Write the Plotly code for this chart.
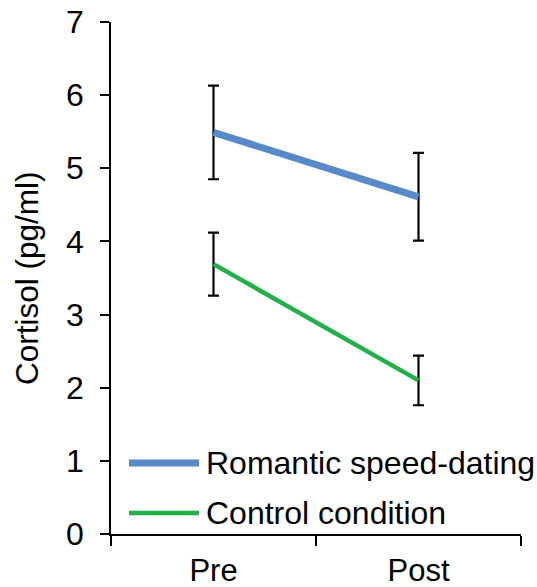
import plotly.graph_objects as go

categories = ["Pre", "Post"]
series_names = ["Romantic speed-dating", "Control condition"]
romantic = [5.49, 4.61]
romantic_err = [0.64, 0.60]
control = [3.69, 2.10]
control_err = [0.43, 0.34]
y_ticks = [0, 1, 2, 3, 4, 5, 6, 7]

blue = "#5889C8"
green = "#22B04B"
FONT = "Liberation Sans, Arial, sans-serif"

fig = go.Figure()
for name, vals, errs, col, w in [
    (series_names[0], romantic, romantic_err, blue, 7),
    (series_names[1], control, control_err, green, 4.5),
]:
    fig.add_trace(go.Scatter(
        x=categories, y=vals, mode="lines", name=name,
        line=dict(color=col, width=w),
        error_y=dict(type="data", array=errs, visible=True,
                     color="black", thickness=2.2, width=5.5),
        showlegend=False,
    ))

# manual legend (long line samples)
W, H = 537, 587
l, r, t, b = 111, 16, 22, 53
pw, ph = W - l - r, H - t - b
def px(xp):
    return (xp - l) / pw
def py(yp):
    return (H - b - yp) / ph

legend_items = [(series_names[0], blue, 7, 463), (series_names[1], green, 4.5, 513)]
for name, col, w, yy in legend_items:
    fig.add_shape(type="line", xref="paper", yref="paper",
                  x0=px(129), x1=px(199), y0=py(yy), y1=py(yy),
                  line=dict(color=col, width=w))
    fig.add_annotation(xref="paper", yref="paper", x=px(204), y=py(yy),
                       text=name, showarrow=False, xanchor="left", yanchor="middle",
                       font=dict(family=FONT, size=32, color="black"))

# y-axis title
fig.add_annotation(xref="paper", yref="paper", x=px(27), y=py(278),
                   text="Cortisol (pg/ml)", showarrow=False, textangle=-90,
                   xanchor="center", yanchor="middle",
                   font=dict(family=FONT, size=31.5, color="black"))

fig.update_layout(
    width=W, height=H,
    margin=dict(l=l, r=r, t=t, b=b, pad=0),
    paper_bgcolor="white", plot_bgcolor="white",
    font=dict(family=FONT, size=32, color="black"),
    showlegend=False,
    xaxis=dict(
        type="category", categoryarray=categories, range=[-0.5, 1.5],
        tickson="boundaries", ticks="outside", ticklen=10, tickwidth=1.5,
        tickcolor="black", showline=True, linecolor="black", linewidth=1.5,
        showgrid=False, zeroline=False, tickfont=dict(size=31),
        ticklabelstandoff=8, automargin=False,
    ),
    yaxis=dict(
        range=[0, 7], tickvals=y_ticks, ticks="outside", ticklen=9,
        tickwidth=1.5, tickcolor="black", showline=True, linecolor="black",
        linewidth=1.5, showgrid=False, zeroline=False, tickfont=dict(size=32),
        ticklabelstandoff=10, automargin=False,
    ),
)

fig.write_html("out.html")
